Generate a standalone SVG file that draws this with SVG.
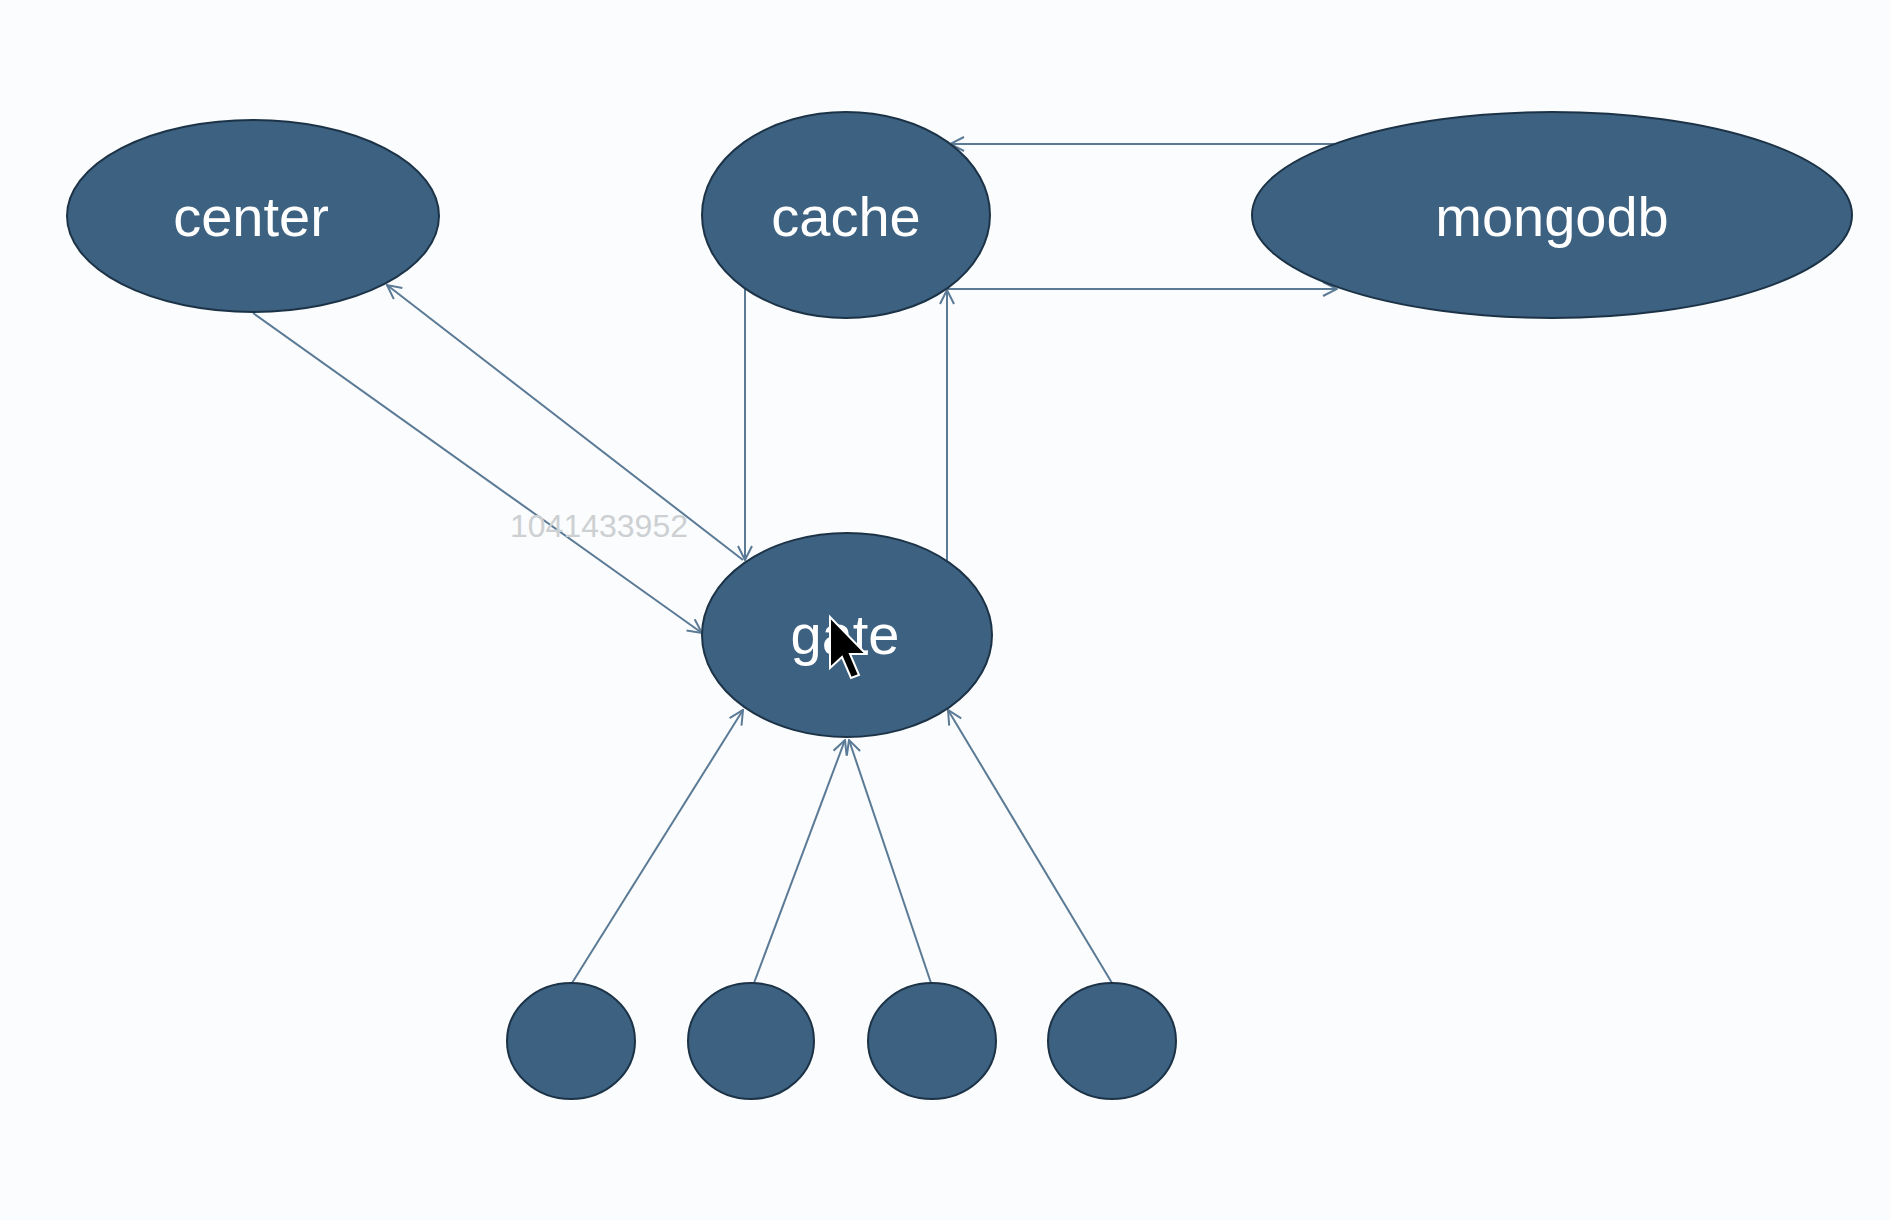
<svg xmlns="http://www.w3.org/2000/svg" width="1890" height="1220" viewBox="0 0 1890 1220">
<style>
.node{fill:#3d6181;stroke:#1c3347;stroke-width:2}
.lbl{font-family:"Liberation Sans",Arial,sans-serif;font-size:56px;fill:#ffffff;text-anchor:middle}
.edge{stroke:#5b7a96;stroke-width:2;fill:none;marker-end:url(#arr)}
.wm{font-family:"Liberation Sans",Arial,sans-serif;font-size:32px;fill:#cdd0d2}
</style>
<defs>
<marker id="arr" markerUnits="userSpaceOnUse" viewBox="0 0 16 16" refX="15" refY="8" markerWidth="16" markerHeight="16" orient="auto">
<path d="M1,1 L15,8 L1,15" fill="none" stroke="#5b7a96" stroke-width="2"/>
</marker>
</defs>
<rect width="1890" height="1220" fill="#fbfcfd"/>
<g id="connectors">
<line class="edge" x1="1337" y1="144" x2="950" y2="144"/>
<line class="edge" x1="947" y1="289" x2="1337" y2="289"/>
<line class="edge" x1="745" y1="289" x2="745" y2="560"/>
<line class="edge" x1="947" y1="561" x2="947" y2="290"/>
<line class="edge" x1="253" y1="313" x2="702" y2="633"/>
<line class="edge" x1="743" y1="560" x2="387" y2="285"/>
<line class="edge" x1="572" y1="983" x2="743" y2="710"/>
<line class="edge" x1="754" y1="983" x2="845" y2="740"/>
<line class="edge" x1="931" y1="983" x2="849" y2="740"/>
<line class="edge" x1="1112" y1="983" x2="948" y2="710"/>
</g>
<text class="wm" x="510" y="537">1041433952</text>
<g id="center"><ellipse class="node" cx="253" cy="216" rx="186" ry="96"/><text class="lbl" x="251" y="236">center</text></g>
<g id="cache"><ellipse class="node" cx="846" cy="215" rx="144" ry="103"/><text class="lbl" x="846" y="236">cache</text></g>
<g id="mongodb"><ellipse class="node" cx="1552" cy="215" rx="300" ry="103"/><text class="lbl" x="1552" y="236">mongodb</text></g>
<g id="gate"><ellipse class="node" cx="847" cy="635" rx="145" ry="102"/><text class="lbl" x="845" y="654">gate</text></g>
<g id="client1"><ellipse class="node" cx="571" cy="1041" rx="64" ry="58"/></g>
<g id="client2"><ellipse class="node" cx="751" cy="1041" rx="63" ry="58"/></g>
<g id="client3"><ellipse class="node" cx="932" cy="1041" rx="64" ry="58"/></g>
<g id="client4"><ellipse class="node" cx="1112" cy="1041" rx="64" ry="58"/></g>
<path d="M830,617 L830,668 L842,657 L851,678 L859,675 L850,654 L866,654 Z" fill="#000000" stroke="#ffffff" stroke-width="2"/>
</svg>
